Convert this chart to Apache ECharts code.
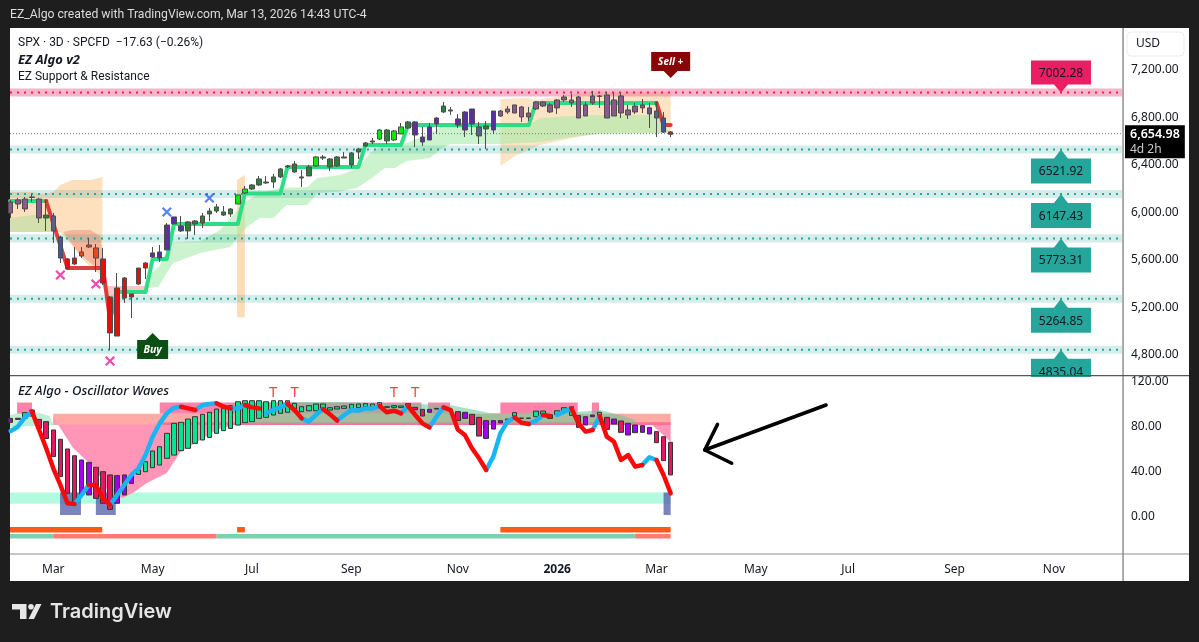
<!DOCTYPE html>
<html><head><meta charset="utf-8">
<script src="https://cdn.jsdelivr.net/npm/echarts@6/dist/echarts.min.js"></script>
<style>html,body{margin:0;padding:0;background:#1e1e1e;overflow:hidden}
#panel{position:absolute;left:10px;top:28px;width:1179px;height:553px;background:#fff}
#c{position:absolute;left:0;top:0;width:1199px;height:642px}</style></head>
<body><div id="panel"></div><div id="c"></div>
<script>
// ---- price candles (index = 3-day bar number) ----
const bodyTop=[6080,6097,6105,6122,6105,5970,5962,5785,5600,5608,5659,5718,5693,5600,5280,5356,5440,5305,5524,5566,5651,5659,5886,5954,5878,5912,5920,5962,6004,6038,5996,6021,6139,6189,6223,6274,6248,6291,6358,6383,6400,6291,6375,6459,6459,6442,6459,6459,6493,6526,6577,6594,6686,6686,6678,6712,6754,6754,6627,6712,6787,6888,6855,6779,6838,6863,6712,6720,6846,6846,6863,6897,6880,6829,6922,6922,6897,6939,6964,6939,6964,6897,6973,6973,6981,6939,6973,6855,6888,6897,6872,6846,6787,6670];
const bodyBottom=[5987,6063,6021,6118,5945,5945,5836,5608,5516,5558,5625,5701,5608,5398,4977,4951,5272,5280,5389,5524,5617,5608,5676,5895,5836,5836,5895,5903,5979,6004,5970,5979,6063,6156,6189,6223,6240,6248,6291,6375,6333,6282,6299,6383,6450,6375,6383,6450,6392,6501,6552,6585,6610,6594,6602,6653,6703,6644,6585,6602,6737,6838,6846,6728,6686,6737,6636,6695,6686,6804,6838,6829,6796,6796,6863,6888,6838,6872,6939,6914,6787,6804,6914,6969,6787,6804,6829,6813,6838,6872,6821,6787,6669,6650];
const wickHigh=[6097,6114,6122,6147,6114,6097,5987,5794,5608,5701,5701,5777,5726,5693,5288,5482,5448,5305,5524,5575,5701,5718,5903,5954,5962,5920,5928,5987,6029,6063,6046,6029,6139,6215,6232,6299,6299,6316,6366,6392,6425,6349,6392,6467,6476,6450,6467,6501,6501,6535,6585,6619,6695,6695,6686,6745,6762,6762,6712,6745,6796,6922,6880,6821,6846,6863,6754,6762,6846,6855,6888,6897,6888,6880,6930,6930,6914,6947,6981,6989,6973,6922,7015,6981,7006,6998,6998,6897,6914,6947,6914,6922,6838,6678];
const wickLow=[5945,6021,5996,6080,5903,5836,5735,5566,5507,5549,5608,5693,5490,5381,4834,4951,5229,5103,5381,5431,5608,5575,5676,5895,5827,5768,5802,5861,5920,5987,5962,5954,6063,6147,6181,6215,6232,6198,6282,6366,6324,6206,6299,6375,6434,6341,6375,6450,6366,6442,6543,6568,6602,6568,6594,6653,6695,6543,6552,6602,6653,6829,6813,6703,6627,6644,6568,6526,6653,6796,6821,6829,6754,6762,6855,6880,6829,6821,6922,6880,6787,6804,6897,6872,6787,6804,6787,6779,6821,6829,6703,6627,6661,6627];
const candleState='mmmmmgsbrrooorrrrrrrpppppgggggggllgggggggggl'+'gggggggglglLg'.replace('L','l')+'ppppggpppsgp'+'mmmmmmmmmmmmmmmmmmmmm'+'ssbr';
const candleColors={m:'#8a5a8c',g:'#2f7d3b',s:'#5a5f8c',b:'#3f55a5',r:'#e40f0f',o:'#ea4a17',p:'#5c2ea0',l:'#0ee60e'};

// ---- support / resistance levels ----
const resistanceLevels=[7002.28];
const supportLevels=[6521.92,6147.43,5773.31,5264.85,4835.04];
const levelBand=34;
const calloutBar=148;
const lastPrice=6654.98;
const priceTicks=[7200,6800,6400,6000,5600,5200,4800];

// ---- trend line runs: [bar, price] ----
const trendGreenA=[[-0.1,6088],[5,6088]];
const trendRedA=[[5,6088],[8,5524],[13,5524],[14,5086]];
const trendGreenB=[[14,5086],[15,5322],[19,5322],[20,5600],[22,5600],[23,5895],[32,5895],[33,6152],[38,6152],[39,6375],[49,6375],[50,6560],[55,6560],[56,6728],[73,6728],[74,6914],[91,6914]];
const trendRedB=[[91,6914],[92,6728],[93,6728]];

// ---- clouds: [bar, price] outlines ----
const cloudGreenTop=[[19.2,5448],[21,5541],[22,5676],[22.9,5743],[26.7,5752],[29.5,5844],[31,5945],[32.7,6072],[35.1,6156],[38,6198],[41.8,6206],[43.2,6282],[46.4,6307],[49,6366],[50.6,6493],[52,6543],[55.8,6577],[60,6686],[61,6728],[73,6728],[74.6,6787],[81,6813],[91,6813],[92,6728],[93,6669]];
const cloudGreenBottom=[[19.2,5356],[20.8,5364],[22,5482],[22.9,5566],[26.7,5651],[30.9,5701],[33.3,5869],[35.1,5945],[37,5945],[38.9,6055],[41.8,6055],[43.2,6156],[46,6164],[48.8,6198],[50.9,6282],[52.7,6366],[54.1,6366],[55.8,6425],[59.1,6450],[60.5,6518],[61.9,6568],[69,6568],[74.6,6585],[79.2,6627],[83,6653],[93,6661]];
const cloudGreenLeft=[[-0.1,5945],[3,5970],[4.6,5970],[5.8,5945],[6,5827],[-0.1,5827]];
const cloudPeachLeft=[[-0.1,6164],[3,6164],[4.6,6147],[6,6164],[7,6223],[8.6,6265],[11.2,6265],[12.9,6291],[12.9,5381],[12.6,5465],[10.5,5575],[8,5760],[7,5827],[-0.1,5827]];
const cloudRedLeft=[[7.4,5827],[8.6,5844],[11.2,5844],[12.6,5794],[13.6,5373],[19,5373],[19.4,5322],[15.1,5322],[14,5086],[12.6,5507],[9.8,5634]];
const cloudPeachBar=[[31.9,6265],[33,6307],[33,5109],[31.9,5109]];
const cloudPeachRight=[[69,6947],[72.7,6956],[74,6939],[81.6,7006],[93,7006],[93,6661],[83,6661],[79.2,6619],[74.6,6560],[71.3,6476],[69,6383]];

// ---- markers ----
const pinkCrosses=[[7,5465],[12,5389],[14,4741]];
const blueCrosses=[[22,5996],[28,6114]];
const buySignal=[20,4977];
const sellSignal=[93,7124];

// ---- oscillator bars ----
const waveTop=[85.9,86,91,93.3,85,83,75.6,67.3,58.7,52.7,48.9,46.8,42.4,38.5,35.6,35,35.6,35,40,47.4,56.9,60.7,72.6,81.5,82.4,85.3,87.4,89.5,91.3,94.2,94.8,97.2,100.7,101.6,101.6,101.6,100.7,101.6,101.6,101.6,99.3,96.3,97.2,98.7,98.7,95.4,96.3,96.9,98.4,98.7,99,98.7,99.9,96.3,97.2,96.9,99,95.7,93.9,93.9,94.8,95.1,93.9,91.9,91.3,89.5,86.8,83.9,83.9,83.9,85.3,91,86.2,86.2,92.4,92.4,89.2,92.7,95.4,96.3,88.3,87.4,88.9,91.3,86.8,85.3,83.6,81.5,80,79.4,77.9,74.1,69.6,64.6];
const waveBottom=[82.4,85,86,88,77,68,51.9,34.1,19.3,10.4,17.8,17.8,14.8,10.4,5,10.4,17.8,28.1,36.1,38.5,42.1,44.4,50.4,53.3,57.2,59.3,63.7,66.7,69,72.6,75,77,80,82.1,83,85.9,86.8,88.9,90.4,91.3,92.7,91.9,92.7,92.7,93.3,93.3,94.2,94.8,94.8,95.4,96.3,96.3,96.9,95.7,95.7,95.7,96.9,93.6,88,91.3,94.2,94.5,92.7,83.9,85.9,80.3,70.2,68.1,76.4,81.8,84.4,86.5,85.9,85.9,87.4,88.6,85.9,89.2,91.3,88.6,77.9,80,87.4,86.8,76.1,80.9,73.5,71.1,73.2,73.5,72,64.3,48.3,35.6];
const waveState='vvgg'+'kkkkkk'+'vv'+'kkk'+'vvv'+'g'.repeat(39)+'kkv'+'vvv'+'kvkkvvvv'+'ggggg'+'kgggkvvgkvk'+'vvvv'+'kkk';
const waveColors={g:'#00e68e',k:'#e8155f',v:'#a000ee'};
const signal=[74.7,78.5,86.8,91.9,75.6,59.3,41.5,26.7,10.4,9.8,17.8,26.7,26.7,14.8,8.9,17.8,26.7,35.6,41.5,53.3,69.6,81.5,90.4,95.4,96.3,94.8,93.3,97.8,98.7,99.3,96.3,94.8,94.8,97.8,95.7,94.8,90.4,93.3,95.7,98.7,93.3,85.9,83,88.9,94.2,89.5,84,88.9,93.3,92.7,94.8,94.8,96.9,91.3,92.7,90.4,96.9,88.9,81.5,77.9,87.4,95.7,93.3,76.1,71.1,59.3,50.4,40,51.9,72.6,83,86.8,82,80.9,83.9,88.9,88,88.9,91.9,94.8,81.5,74.1,75.6,88,69.6,65.2,48.9,53.3,43,44.4,51.3,48.9,35.6,19.3];
const signalBlueRuns=[[0,3],[9,11],[14,24],[26,29],[31,33],[36,39],[41,44],[46,52],[55,56],[59,61],[67,71],[73,75],[77,79],[82,83],[89,91]];
const signalRedRuns=[[3,9],[11,14],[24,26],[29,31],[33,35],[39,41],[44,46],[52,55],[56,59],[61,67],[71,73],[75,76],[79,82],[83,89],[91,93]];
const tMarkers=[[37,108.5],[40,108.5],[54,108.5],[57,108.5]];
const oscTicks=[120,80,40,0];

// ---- oscillator zones: [fromBar, toBar] ----
const lowBandRange=[20,10];
const lowBandBars=[-0.1,93];
const extremeRuns=[[6.95,9.9],[12,14.8],[92,93]];
const extremeRange=[20,0];
const highBlockRuns=[[0.9,3],[21,57.9],[58.8,61.9],[69,79.9],[81.9,82.9]];
const highBlockRange=[100,90];
const upperStrip=[90,80];
const upperStripBars=[6,93];
const innerStrip=[82.5,80];
const innerStripBars=[21,93];
const orangeRuns=[[-0.1,12.9],[31.9,33],[69,93]];
const orangeRange=[-10.7,-15.5];
const regimeGreenRuns=[[-0.1,6],[29,88]];
const regimeRedRuns=[[6,29],[88,93]];
const regimeRange=[-17,-21];
const waveGreenLeft=[[-0.1,88.9],[3,92.4],[5.5,88],[6,80],[-0.1,78.2]];
const waveGreenRight=[[32.3,98.7],[38,100.4],[46.4,100.4],[61.9,97.8],[67.5,90.7],[69.6,90.7],[79.9,91.6],[83,93.3],[85.9,88.9],[88,84.4],[88,80.9],[32.3,80.9]];
const wavePinkLeft=[[6,87],[8.8,59.6],[10.9,47.1],[12.3,37.3],[13.6,22.2],[14.4,17.8],[15.8,15.1],[17.2,19.6],[19.2,28.4],[22,37.3],[23.9,56],[26.7,66.7],[29,75.6],[32.3,81.8],[32.3,80.5],[6,80.5]];
const wavePinkRight=[[86,80],[90.4,80],[92,71],[93,64.9],[93,80]];
const arrowShaft=[[114.9,97.8],[97.8,57.8]];
const arrowHead=[[99.6,80.6],[97.8,57.8],[101.6,46]];

// ---- time axis ----
const timeBars=[6,20,34,48,63,77,91,105,118,133,147];
const timeLabels=['Mar','May','Jul','Sep','Nov','2026','Mar','May','Jul','Sep','Nov'];

const X0=-0.1, X1=156.6;
const FONT='"Noto Sans",sans-serif';
const TEXT='Roboto,sans-serif';
const fmt2=v=>v.toLocaleString('en-US',{minimumFractionDigits:2,maximumFractionDigits:2});

function poly(pts,color,pane){
  return {type:'custom',silent:true,xAxisIndex:pane,yAxisIndex:pane,z:pane?5:2,animation:false,
    data:[[pts[0][0],pts[0][1]]],
    renderItem:(p,api)=>({type:'polygon',shape:{points:pts.map(q=>api.coord(q))},style:{fill:color}})};
}
const rectOf=(r,v)=>[[r[0],v[0]],[r[1],v[0]],[r[1],v[1]],[r[0],v[1]]];
function line(pts,color,width,pane,extra){
  return Object.assign({type:'line',silent:true,symbol:'none',xAxisIndex:pane,yAxisIndex:pane,z:pane?6:2,animation:false,
    data:pts,lineStyle:{color,width,cap:'round',join:'round'}},extra||{});
}
function callout(pt,label,color,up,size,textColor,font,weight,shift){
  const [w,h,t]=size;
  const path=up?`path://M${w/2} 0L${w/2+7} ${t}L${w} ${t}L${w} ${h}L0 ${h}L0 ${t}L${w/2-7} ${t}Z`
               :`path://M0 0L${w} 0L${w} ${h-t}L${w/2+7} ${h-t}L${w/2} ${h}L${w/2-7} ${h-t}L0 ${h-t}Z`;
  return {type:'scatter',silent:true,animation:false,xAxisIndex:0,yAxisIndex:0,clip:false,
    symbol:path,symbolSize:[w,h],symbolOffset:[0,up?h/2:-h/2],
    itemStyle:{color,opacity:1},data:[{value:pt,name:label}],
    label:{show:true,position:'inside',formatter:'{b}',color:textColor,fontFamily:FONT,fontSize:font,fontWeight:weight,fontStyle:shift.style||'normal',offset:[0,(up?t/2:-t/2)+1]}};
}
function crosses(pts,color){
  return {type:'scatter',silent:true,animation:false,xAxisIndex:0,yAxisIndex:0,data:pts,
    symbol:'path://M0 0L10 10M10 0L0 10',symbolSize:8.5,
    itemStyle:{color:'rgba(0,0,0,0)',borderColor:color,borderWidth:2.2}};
}

const series=[];
// clouds
series.push(poly(cloudPeachLeft,'rgba(253,205,150,.62)',0));
series.push(poly(cloudGreenLeft,'rgba(150,225,150,.42)',0));
series.push(poly(cloudRedLeft,'rgba(240,90,80,.33)',0));
series.push(poly(cloudPeachBar,'rgba(253,205,150,.7)',0));
series.push(poly(cloudPeachRight,'rgba(253,205,150,.55)',0));
series.push(poly(cloudGreenTop.concat(cloudGreenBottom.slice().reverse()),'rgba(160,235,165,.55)',0));
// S/R bands and dotted lines
resistanceLevels.forEach(l=>{
  series.push(poly(rectOf([X0,X1],[l+levelBand,l-levelBand]),'rgba(245,90,140,.45)',0));
  series.push(line([[X0,l],[X1,l]],'#e91e63',2,0,{lineStyle:{color:'#e91e63',width:2,type:[2,5]}}));
});
supportLevels.forEach(l=>{
  series.push(poly(rectOf([X0,X1],[l+levelBand,l-levelBand]),'rgba(38,166,154,.2)',0));
  series.push(line([[X0,l],[X1,l]],'#26a69a',2,0,{lineStyle:{color:'#26a69a',width:2,type:[2,5]}}));
});
// last price
series.push(line([[X0,lastPrice],[X1,lastPrice]],'#777',1,0,{lineStyle:{color:'#777',width:1,type:[1,2]},
  markLine:{silent:true,symbol:'none',animation:false,lineStyle:{color:'rgba(0,0,0,0)'},data:[{yAxis:lastPrice}],
    label:{show:true,position:'end',distance:3,offset:[0,8],padding:[2,5,1,5],backgroundColor:'#000',formatter:'{a|'+fmt2(lastPrice)+'}\n{b|4d 2h}',
      rich:{a:{color:'#fff',fontFamily:FONT,fontSize:12.5,fontWeight:600,lineHeight:15},b:{color:'#ccc',fontFamily:FONT,fontSize:12,lineHeight:15}}}}}));
// candles
series.push({type:'candlestick',silent:true,animation:false,xAxisIndex:0,yAxisIndex:0,barWidth:5,encode:{x:0,y:[1,2,3,4]},
  data:bodyTop.map((t,i)=>{const c=candleColors[candleState[i]];
    return {value:[i,bodyBottom[i],t,wickLow[i],wickHigh[i]],itemStyle:{color:c,color0:c,borderColor:'#4d4d4d',borderColor0:'#4d4d4d',borderColorDoji:'#4d4d4d',borderWidth:1}};})});
// trend
series.push(line(trendGreenA,'#2fdc86',4,0));
series.push(line(trendRedA,'rgba(214,40,40,.88)',4,0));
series.push(line(trendGreenB,'#2fdc86',4,0));
series.push(line(trendRedB,'rgba(214,40,40,.9)',4,0));
// markers
series.push(crosses(pinkCrosses,'#f5169c'));
series.push(crosses(blueCrosses,'#2962ff'));
series.push(callout(buySignal,'Buy','#0b4f14',true,[31,26,7],'#fff',10.5,700,{style:'italic'}));
series.push(callout(sellSignal,'Sell +','#8a0606',false,[39,26,7],'#fff',10,700,{style:'italic'}));
series.push(callout([calloutBar,resistanceLevels[0]],'7002.28','#ec1e63',false,[60,32,8],'#131722',12,400,{}));
supportLevels.forEach(l=>series.push(callout([calloutBar,l],l.toFixed(2),'#26a69a',true,[60,34,9],'#131722',12,400,{})));

// oscillator fills
series.push(poly(rectOf(lowBandBars,lowBandRange),'#b3fbe0',1));
extremeRuns.forEach(r=>series.push(poly(rectOf(r,extremeRange),'rgba(70,85,165,.72)',1)));
series.push(poly(rectOf(upperStripBars,upperStrip),'#ffaaa4',1));
highBlockRuns.forEach(r=>series.push(poly(rectOf(r,highBlockRange),'#ff82aa',1)));
series.push(poly(wavePinkLeft,'#ff96b8',1));
series.push(poly(wavePinkRight,'#ff96b8',1));
series.push(poly(rectOf(innerStripBars,innerStrip),'#ff7098',1));
series.push(poly(waveGreenLeft,'rgba(120,225,170,.5)',1));
series.push(poly(waveGreenRight,'rgba(100,200,150,.55)',1));
orangeRuns.forEach(r=>series.push(poly(rectOf(r,orangeRange),'#ff5a14',1)));
regimeGreenRuns.forEach(r=>series.push(poly(rectOf(r,regimeRange),'#7bd1ad',1)));
regimeRedRuns.forEach(r=>series.push(poly(rectOf(r,regimeRange),'#ff7b72',1)));
// oscillator bars
series.push({type:'candlestick',silent:true,animation:false,xAxisIndex:1,yAxisIndex:1,z:6,barWidth:5,encode:{x:0,y:[1,2,3,4]},
  data:waveTop.map((t,i)=>{const c=waveColors[waveState[i]];
    return {value:[i,waveBottom[i],t,waveBottom[i],t],itemStyle:{color:c,color0:c,borderColor:'#333',borderColor0:'#333',borderColorDoji:'#333',borderWidth:1}};})});
// signal
signalBlueRuns.forEach(r=>{const d=[];for(let i=r[0];i<=r[1];i++)d.push([i,signal[i]]);series.push(line(d,'#19b5f5',4.5,1,{z:7}));});
signalRedRuns.forEach(r=>{const d=[];for(let i=r[0];i<=r[1];i++)d.push([i,signal[i]]);series.push(line(d,'#f80a0a',4.5,1,{z:7}));});
// T
series.push({type:'scatter',silent:true,animation:false,xAxisIndex:1,yAxisIndex:1,z:7,symbolSize:1,itemStyle:{color:'rgba(0,0,0,0)'},
  data:tMarkers,label:{show:true,position:'inside',formatter:'T',color:'#f01414',fontFamily:FONT,fontSize:15}});
// arrow
series.push(line(arrowShaft,'#000',3.5,1,{z:8}));
series.push(line(arrowHead,'#000',3.5,1,{z:8}));

const chart=echarts.init(document.getElementById('c'),null,{renderer:'canvas'});
const txt=(x,y,t,font,fill)=>({type:'text',x,y,z:20,silent:true,style:{text:t,font,fill,textVerticalAlign:'middle'}});
const rct=(x,y,w,h,fill,extra)=>Object.assign({type:'rect',z:20,silent:true,shape:{x,y,width:w,height:h},style:{fill}},extra||{});
const tickRich=pad=>({a:{fontFamily:FONT,fontSize:12,color:'#131722',padding:[pad,0,0,0]}});
chart.setOption({
  animation:false,backgroundColor:'transparent',
  grid:[{left:10,right:77,top:28,height:347},{left:10,right:77,top:377,height:176,show:true,backgroundColor:'#fff',borderWidth:0,z:3}],
  xAxis:[{type:'value',gridIndex:0,min:X0,max:X1,axisLine:{show:false},axisTick:{show:false},axisLabel:{show:false},splitLine:{show:false}},
    {type:'value',gridIndex:1,min:X0,max:X1,axisLine:{show:false},axisTick:{show:false},splitLine:{show:false},
     axisLabel:{customValues:timeBars,margin:11,color:'#131722',fontFamily:FONT,fontSize:12,showMinLabel:true,showMaxLabel:true,
       formatter:v=>{const s=timeLabels[timeBars.indexOf(v)];return s==='2026'?'{b|2026}':s;},rich:{b:{fontWeight:700,fontFamily:FONT,fontSize:12,color:'#131722'}}}}],
  yAxis:[{type:'value',gridIndex:0,position:'right',min:4623,max:7545,axisLine:{show:false},axisTick:{show:false},splitLine:{show:false},
     axisLabel:{customValues:priceTicks,margin:9,formatter:v=>'{a|'+fmt2(v)+'}',rich:tickRich(2)}},
    {type:'value',gridIndex:1,position:'right',min:-33.8,max:122.7,axisLine:{show:false},axisTick:{show:false},splitLine:{show:false},
     axisLabel:{customValues:oscTicks,margin:9,formatter:v=>'{a|'+fmt2(v)+'}',rich:tickRich(4)}}],
  graphic:[
    rct(1122.3,28,1.5,553,'#8f8f8f'),
    rct(10,375,1179,1.2,'#555'),
    rct(10,553.5,1179,1,'#8f8f8f'),
    {type:'rect',z:20,silent:true,shape:{x:1127,y:32,width:57,height:24,r:4},style:{fill:'#fff',stroke:'#ececec',lineWidth:1}},
    txt(1136,44,'USD','12px '+FONT,'#131722'),
    txt(10,15,'EZ_Algo created with TradingView.com, Mar 13, 2026 14:43 UTC-4','12.2px '+TEXT,'#dcdcdc'),
    txt(18,43,'SPX · 3D · SPCFD  −17.63 (−0.26%)','12px '+TEXT,'#131722'),
    txt(18,60,'EZ Algo v2','italic 700 13px '+FONT,'#131722'),
    txt(18,77,'EZ Support & Resistance','12px '+TEXT,'#131722'),
    txt(18,391,'EZ Algo - Oscillator Waves','italic 500 13px '+FONT,'#131722'),
    {type:'polygon',z:20,silent:true,shape:{points:[[12,604],[26.5,604],[26.5,619],[20,619],[20,609.5],[12,609.5]]},style:{fill:'#e6e6e6'}},
    {type:'circle',z:20,silent:true,shape:{cx:31,cy:606.8,r:2.8},style:{fill:'#e6e6e6'}},
    {type:'polygon',z:20,silent:true,shape:{points:[[36,604],[41.5,604],[34,619],[28.5,619]]},style:{fill:'#e6e6e6'}},
    txt(50,612,'TradingView','600 20px Inter,sans-serif','#e6e6e6')
  ],
  series
});
</script></body></html>
